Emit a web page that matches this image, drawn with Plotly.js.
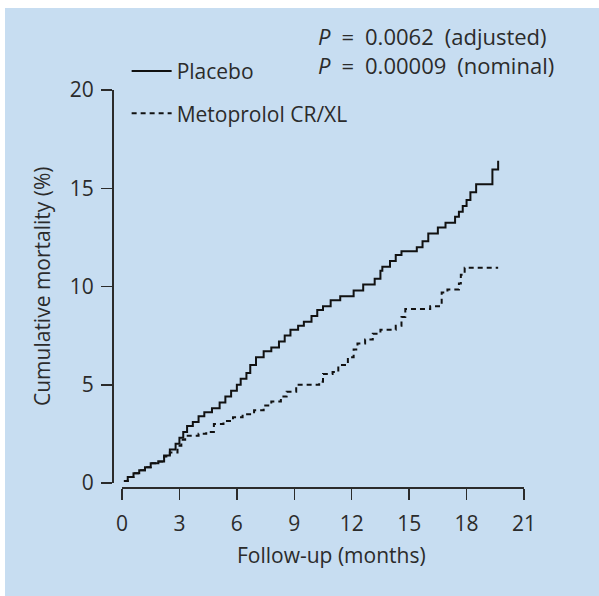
<!DOCTYPE html>
<html>
<head>
<meta charset="utf-8">
<script src="https://cdn.plot.ly/plotly-3.0.1.min.js"></script>
<style>
  html, body { margin: 0; padding: 0; background: #ffffff; }
  #chart { position: absolute; left: 5px; top: 8px; width: 594px; height: 588px; }
</style>
</head>
<body>
<div id="chart"></div>
<script>
// Follow-up time (months) at each step, and cumulative mortality (%) after the step
const placeboMonths = [0.1,0.3,0.6,0.9,1.2,1.5,1.9,2.2,2.5,2.8,3.0,3.2,3.4,3.7,4.0,4.3,4.7,5.1,5.4,5.7,6.0,6.2,6.5,6.7,7.0,7.4,7.8,8.2,8.5,8.8,9.2,9.5,9.9,10.2,10.5,10.9,11.4,12.1,12.6,13.2,13.5,13.6,14.0,14.3,14.6,15.4,15.7,16.0,16.5,16.9,17.4,17.6,17.8,18.0,18.2,18.5,19.35,19.65];
const placeboMortality = [0.1,0.3,0.5,0.65,0.8,1.0,1.1,1.4,1.7,2.0,2.3,2.6,2.9,3.1,3.4,3.6,3.8,4.1,4.4,4.7,5.0,5.3,5.6,6.0,6.4,6.7,6.9,7.2,7.5,7.8,8.0,8.2,8.5,8.8,9.0,9.3,9.5,9.8,10.1,10.4,10.8,11.0,11.3,11.6,11.8,12.0,12.3,12.7,13.0,13.25,13.55,13.8,14.1,14.4,14.8,15.2,15.95,16.4];

const metoMonths = [0.1,0.3,0.6,0.9,1.2,1.5,1.9,2.2,2.5,2.9,3.1,3.3,4.0,4.4,4.8,5.3,5.8,6.3,6.9,7.4,7.8,8.3,8.6,9.1,10.3,10.5,11.0,11.3,11.8,12.1,12.3,12.7,13.1,13.5,14.3,14.6,14.8,16.1,16.7,17.0,17.6,17.7,17.9,19.65];
const metoMortality = [0.1,0.3,0.5,0.65,0.8,1.0,1.1,1.35,1.55,1.9,2.2,2.4,2.5,2.6,3.0,3.15,3.35,3.5,3.7,3.95,4.15,4.4,4.65,5.0,5.15,5.55,5.65,6.0,6.4,6.8,7.1,7.3,7.6,7.8,8.0,8.45,8.85,9.0,9.7,9.85,10.15,10.6,10.95,10.95];

const seriesNames = ['Placebo', 'Metoprolol CR/XL'];
const xTicks = [0,3,6,9,12,15,18,21];
const yTicks = [0,5,10,15,20];
const SP = '\u2002';
const pLines = ['<i>P</i>' + SP + '=' + SP + '0.0062' + SP + '(adjusted)',
                '<i>P</i>' + SP + '=' + SP + '0.00009' + SP + '(nominal)'];

const FONT = '"Open Sans", "Noto Sans", sans-serif';
const INK = '#2b2b2b';
const BG = 'rgb(199,221,241)';
const FS = 21;

const traces = [
  {
    x: placeboMonths, y: placeboMortality, name: seriesNames[0],
    type: 'scatter', mode: 'lines', line: {shape: 'hv', color: '#111', width: 2},
    legendgroup: 'a'
  },
  {
    x: metoMonths, y: metoMortality, name: seriesNames[1],
    type: 'scatter', mode: 'lines', line: {shape: 'hv', color: '#111', width: 2, dash: '5px,4px'},
    legendgroup: 'b'
  }
];

const layout = {
  width: 594, height: 588,
  margin: {l: 95, r: 55, t: 72, b: 100},
  paper_bgcolor: BG, plot_bgcolor: 'rgba(0,0,0,0)',
  font: {family: FONT, size: FS, color: INK},
  showlegend: true,
  legend: {
    x: 0.06, y: 1.07, xanchor: 'left', yanchor: 'top',
    bgcolor: 'rgba(0,0,0,0)', font: {family: FONT, size: FS, color: INK},
    tracegroupgap: 12, itemwidth: 40
  },
  xaxis: {
    domain: [0.04955, 0.95495], anchor: 'free', position: 0.02163,
    range: [0, 21], tickvals: xTicks, ticktext: xTicks.map(String),
    showline: true, linecolor: INK, linewidth: 1.5,
    ticks: 'outside', ticklen: 11, tickwidth: 1.5, tickcolor: INK,
    showgrid: false, zeroline: false, fixedrange: true, ticklabelstandoff: 6,
    tickfont: {family: FONT, size: FS, color: INK}
  },
  yaxis: {
    domain: [0.03125, 0.97596], anchor: 'free', position: 0.02703,
    range: [0, 20], tickvals: yTicks, ticktext: yTicks.map(String),
    showline: true, linecolor: INK, linewidth: 1.5,
    ticks: 'outside', ticklen: 11, tickwidth: 1.5, tickcolor: INK,
    showgrid: false, zeroline: false, fixedrange: true, ticklabelstandoff: 3,
    tickfont: {family: FONT, size: FS, color: INK}
  },
  annotations: [
    {text: 'Cumulative mortality (%)', xref: 'paper', yref: 'paper', x: -0.1306, y: 0.5048,
     xanchor: 'center', yanchor: 'middle', textangle: -90, showarrow: false,
     font: {family: FONT, size: FS, color: INK}},
    {text: 'Follow-up (months)', xref: 'paper', yref: 'paper', x: 0.5203, y: -0.1418,
     xanchor: 'center', yanchor: 'middle', showarrow: false,
     font: {family: FONT, size: FS, color: INK}},
    {text: pLines.join('<br>'), xref: 'paper', yref: 'paper', x: 0.487, y: 1.0721,
     xanchor: 'left', yanchor: 'middle', align: 'left', showarrow: false,
     font: {family: FONT, size: 22, color: INK}}
  ]
};

Plotly.newPlot('chart', traces, layout, {displayModeBar: false, staticPlot: true});
</script>
</body>
</html>
